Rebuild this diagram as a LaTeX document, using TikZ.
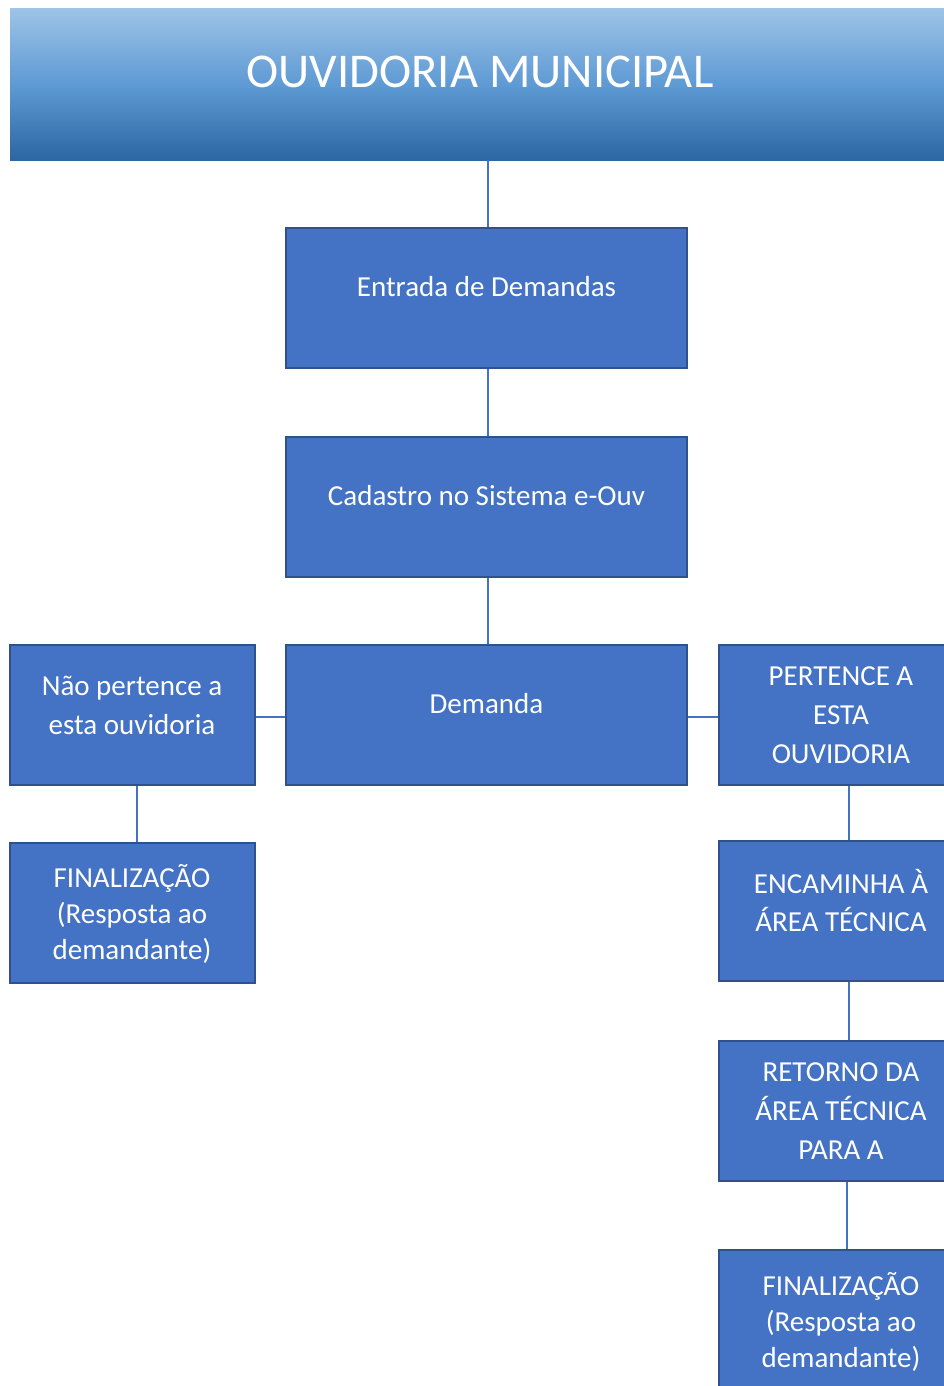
\documentclass[tikz,border=0pt]{standalone}
\usepackage{fontspec}
\setmainfont{Carlito}
\usetikzlibrary{positioning}
\definecolor{boxblue}{HTML}{4472C4}
\definecolor{boxedge}{HTML}{2F528F}
\definecolor{headtop}{HTML}{9DC3E6}
\definecolor{headmid}{HTML}{5E9AD4}
\definecolor{headbot}{HTML}{2C66A3}
\tikzset{
  box/.style={draw=boxedge, fill=boxblue, line width=2pt, minimum height=140pt, inner sep=0pt},
  widebox/.style={box, minimum width=401pt},
  sidebox/.style={box, minimum width=245pt},
  txt/.style={text=white, font=\fontsize{29}{39}\selectfont, align=center, inner sep=0pt},
  link/.style={draw=boxblue, line width=1.2pt}
}
\begin{document}
\begin{tikzpicture}[x=1pt,y=-1pt]
\useasboundingbox (0,0) rectangle (944,1386);
\clip (0,0) rectangle (944,1386);
\node[minimum width=940pt, minimum height=151pt, inner sep=0pt, top color=headtop, bottom color=headbot, middle color=headmid] (title) at (480,84.5) {};
\node[text=white, font=\fontsize{48.5}{58}\selectfont, inner sep=0pt] (title-t) at (480,72) {OUVIDORIA MUNICIPAL};
\node[widebox] (entrada) at (486.5,298) {};
\node[txt] (entrada-t) at ([yshift=11pt]entrada.center) {Entrada de Demandas};
\node[widebox] (cadastro) at (486.5,507) {};
\node[txt] (cadastro-t) at ([yshift=11pt]cadastro.center) {Cadastro no Sistema e-Ouv};
\node[widebox] (demanda) at (486.5,715) {};
\node[txt] (demanda-t) at ([yshift=11pt]demanda.center) {Demanda};
\node[sidebox] (nao) at (132,715) {};
\node[txt] (nao-t) at ([yshift=10pt]nao.center) {Não pertence a\\esta ouvidoria};
\node[sidebox] (fimesq) at (132,913) {};
\node[txt, font=\fontsize{29}{36}\selectfont] (fimesq-t) at ([yshift=-1pt]fimesq.center) {FINALIZAÇÃO\\(Resposta ao\\demandante)};
\node[sidebox] (pertence) at (841,715) {};
\node[txt] (pertence-t) at (pertence.center) {PERTENCE A\\ESTA\\OUVIDORIA};
\node[sidebox] (encaminha) at (841,911) {};
\node[txt, font=\fontsize{29}{38}\selectfont] (encaminha-t) at ([yshift=11pt]encaminha.center) {ENCAMINHA À\\ÁREA TÉCNICA};
\node[sidebox] (retorno) at (841,1111) {};
\node[txt] (retorno-t) at (retorno.center) {RETORNO DA\\ÁREA TÉCNICA\\PARA A};
\node[sidebox] (fimdir) at (841,1320) {};
\node[txt, font=\fontsize{29}{36}\selectfont] (fimdir-t) at ([yshift=-2pt]fimdir.center) {FINALIZAÇÃO\\(Resposta ao\\demandante)};
\draw[link] ([xshift=1.5pt]title.south -| entrada.north) -- ([xshift=1.5pt]entrada.north);
\draw[link] ([xshift=1.5pt]entrada.south) -- ([xshift=1.5pt]cadastro.north);
\draw[link] ([xshift=1.5pt]cadastro.south) -- ([xshift=1.5pt]demanda.north);
\draw[link] ([yshift=-2pt]demanda.west) -- ([yshift=-2pt]nao.east);
\draw[link] ([yshift=-2pt]demanda.east) -- ([yshift=-2pt]pertence.west);
\draw[link] ([xshift=5pt]nao.south) -- ([xshift=5pt]fimesq.north);
\draw[link] ([xshift=8pt]pertence.south) -- ([xshift=8pt]encaminha.north);
\draw[link] ([xshift=8pt]encaminha.south) -- ([xshift=8pt]retorno.north);
\draw[link] ([xshift=6pt]retorno.south) -- ([xshift=6pt]fimdir.north);
\end{tikzpicture}
\end{document}
